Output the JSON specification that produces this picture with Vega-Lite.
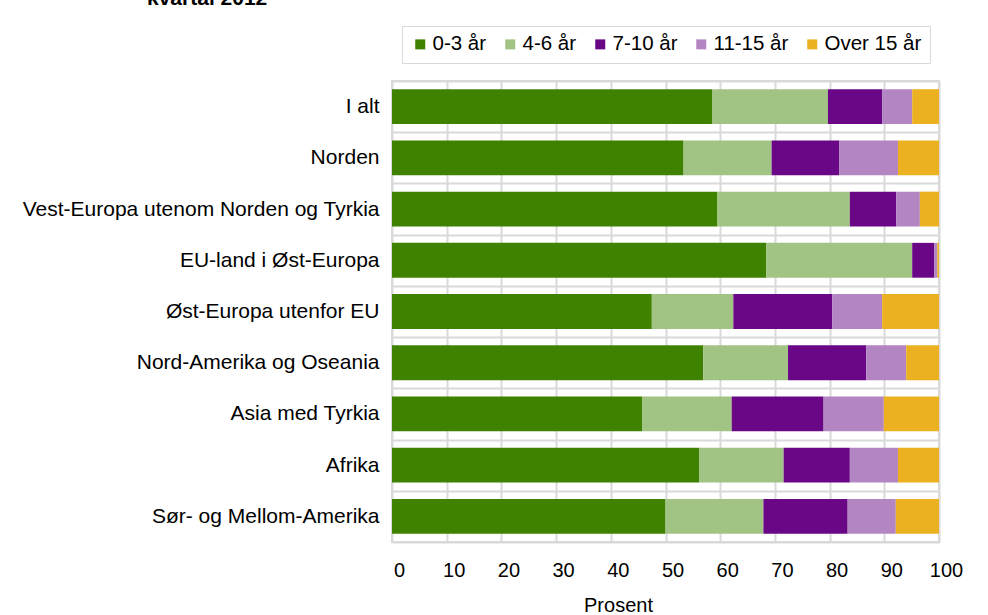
{
  "$schema": "https://vega.github.io/schema/vega-lite/v6.json",
  "autosize": "none",
  "padding": {"left": 392, "top": 81, "right": 49, "bottom": 73},
  "width": 547,
  "height": 461,
  "background": "white",
  "title": {
    "text": "kvartal 2012",
    "anchor": "start",
    "frame": "group",
    "font": "Liberation Sans",
    "fontSize": 21,
    "fontWeight": "bold",
    "color": "#000000",
    "baseline": "alphabetic",
    "dx": -245,
    "offset": 0
  },
  "config": {
    "view": {"stroke": "#d9d9d9", "strokeWidth": 2},
    "font": "Liberation Sans",
    "axis": {"labelFont": "Liberation Sans", "titleFont": "Liberation Sans", "labelColor": "#000000", "titleColor": "#000000"},
    "legend": {"labelFont": "Liberation Sans"}
  },
  "data": {
    "values": [
      {"region": "I alt", "group": "0-3 år", "k": 1, "pct": 58.5},
      {"region": "I alt", "group": "4-6 år", "k": 2, "pct": 21.2},
      {"region": "I alt", "group": "7-10 år", "k": 3, "pct": 9.9},
      {"region": "I alt", "group": "11-15 år", "k": 4, "pct": 5.5},
      {"region": "I alt", "group": "Over 15 år", "k": 5, "pct": 4.9},
      {"region": "Norden", "group": "0-3 år", "k": 1, "pct": 53.3},
      {"region": "Norden", "group": "4-6 år", "k": 2, "pct": 16.1},
      {"region": "Norden", "group": "7-10 år", "k": 3, "pct": 12.4},
      {"region": "Norden", "group": "11-15 år", "k": 4, "pct": 10.7},
      {"region": "Norden", "group": "Over 15 år", "k": 5, "pct": 7.5},
      {"region": "Vest-Europa utenom Norden og Tyrkia", "group": "0-3 år", "k": 1, "pct": 59.5},
      {"region": "Vest-Europa utenom Norden og Tyrkia", "group": "4-6 år", "k": 2, "pct": 24.2},
      {"region": "Vest-Europa utenom Norden og Tyrkia", "group": "7-10 år", "k": 3, "pct": 8.5},
      {"region": "Vest-Europa utenom Norden og Tyrkia", "group": "11-15 år", "k": 4, "pct": 4.3},
      {"region": "Vest-Europa utenom Norden og Tyrkia", "group": "Over 15 år", "k": 5, "pct": 3.5},
      {"region": "EU-land i Øst-Europa", "group": "0-3 år", "k": 1, "pct": 68.4},
      {"region": "EU-land i Øst-Europa", "group": "4-6 år", "k": 2, "pct": 26.7},
      {"region": "EU-land i Øst-Europa", "group": "7-10 år", "k": 3, "pct": 4.0},
      {"region": "EU-land i Øst-Europa", "group": "11-15 år", "k": 4, "pct": 0.6},
      {"region": "EU-land i Øst-Europa", "group": "Over 15 år", "k": 5, "pct": 0.3},
      {"region": "Øst-Europa utenfor EU", "group": "0-3 år", "k": 1, "pct": 47.5},
      {"region": "Øst-Europa utenfor EU", "group": "4-6 år", "k": 2, "pct": 14.9},
      {"region": "Øst-Europa utenfor EU", "group": "7-10 år", "k": 3, "pct": 18.1},
      {"region": "Øst-Europa utenfor EU", "group": "11-15 år", "k": 4, "pct": 9.1},
      {"region": "Øst-Europa utenfor EU", "group": "Over 15 år", "k": 5, "pct": 10.4},
      {"region": "Nord-Amerika og Oseania", "group": "0-3 år", "k": 1, "pct": 56.9},
      {"region": "Nord-Amerika og Oseania", "group": "4-6 år", "k": 2, "pct": 15.5},
      {"region": "Nord-Amerika og Oseania", "group": "7-10 år", "k": 3, "pct": 14.3},
      {"region": "Nord-Amerika og Oseania", "group": "11-15 år", "k": 4, "pct": 7.3},
      {"region": "Nord-Amerika og Oseania", "group": "Over 15 år", "k": 5, "pct": 6.0},
      {"region": "Asia med Tyrkia", "group": "0-3 år", "k": 1, "pct": 45.7},
      {"region": "Asia med Tyrkia", "group": "4-6 år", "k": 2, "pct": 16.4},
      {"region": "Asia med Tyrkia", "group": "7-10 år", "k": 3, "pct": 16.8},
      {"region": "Asia med Tyrkia", "group": "11-15 år", "k": 4, "pct": 11.0},
      {"region": "Asia med Tyrkia", "group": "Over 15 år", "k": 5, "pct": 10.1},
      {"region": "Afrika", "group": "0-3 år", "k": 1, "pct": 56.2},
      {"region": "Afrika", "group": "4-6 år", "k": 2, "pct": 15.4},
      {"region": "Afrika", "group": "7-10 år", "k": 3, "pct": 12.1},
      {"region": "Afrika", "group": "11-15 år", "k": 4, "pct": 8.8},
      {"region": "Afrika", "group": "Over 15 år", "k": 5, "pct": 7.5},
      {"region": "Sør- og Mellom-Amerika", "group": "0-3 år", "k": 1, "pct": 50.0},
      {"region": "Sør- og Mellom-Amerika", "group": "4-6 år", "k": 2, "pct": 17.9},
      {"region": "Sør- og Mellom-Amerika", "group": "7-10 år", "k": 3, "pct": 15.4},
      {"region": "Sør- og Mellom-Amerika", "group": "11-15 år", "k": 4, "pct": 8.8},
      {"region": "Sør- og Mellom-Amerika", "group": "Over 15 år", "k": 5, "pct": 7.9}
    ]
  },
  "mark": {"type": "bar", "height": {"band": 0.68}},
  "encoding": {
    "y": {
      "field": "region",
      "type": "nominal",
      "sort": null,
      "scale": {"paddingInner": 0, "paddingOuter": 0},
      "axis": {
        "title": null,
        "ticks": false,
        "domain": false,
        "labelPadding": 13,
        "labelFontSize": 21,
        "labelLimit": 400,
        "grid": true,
        "tickBand": "extent",
        "gridColor": "#d9d9d9",
        "gridWidth": 2
      }
    },
    "x": {
      "field": "pct",
      "type": "quantitative",
      "stack": "zero",
      "scale": {"domain": [0, 100], "nice": false},
      "axis": {
        "title": "Prosent",
        "titleFontSize": 20,
        "titleFontWeight": "normal",
        "titleX": 226,
        "titleY": 69,
        "titleBaseline": "alphabetic",
        "values": [0, 10, 20, 30, 40, 50, 60, 70, 80, 90, 100],
        "ticks": false,
        "domain": false,
        "labelFontSize": 20,
        "labelPadding": 18,
        "labelOffset": 7,
        "labelFlush": false,
        "grid": true,
        "gridColor": "#d9d9d9",
        "gridWidth": 2
      }
    },
    "color": {
      "field": "group",
      "type": "nominal",
      "scale": {
        "domain": ["0-3 år", "4-6 år", "7-10 år", "11-15 år", "Over 15 år"],
        "range": ["#3f8200", "#a1c383", "#690787", "#b385c2", "#ecb120"]
      },
      "legend": {
        "title": null,
        "orient": "none",
        "direction": "horizontal",
        "columns": 5,
        "legendX": 10,
        "legendY": -55,
        "padding": 8,
        "strokeColor": "#d9d9d9",
        "fillColor": "white",
        "symbolType": "square",
        "symbolSize": 100,
        "symbolStrokeWidth": 0,
        "labelFontSize": 20.5,
        "labelColor": "#000000",
        "labelOffset": 2,
        "columnPadding": 13,
        "labelLimit": 300
      }
    },
    "order": {"field": "k", "type": "quantitative"}
  }
}
